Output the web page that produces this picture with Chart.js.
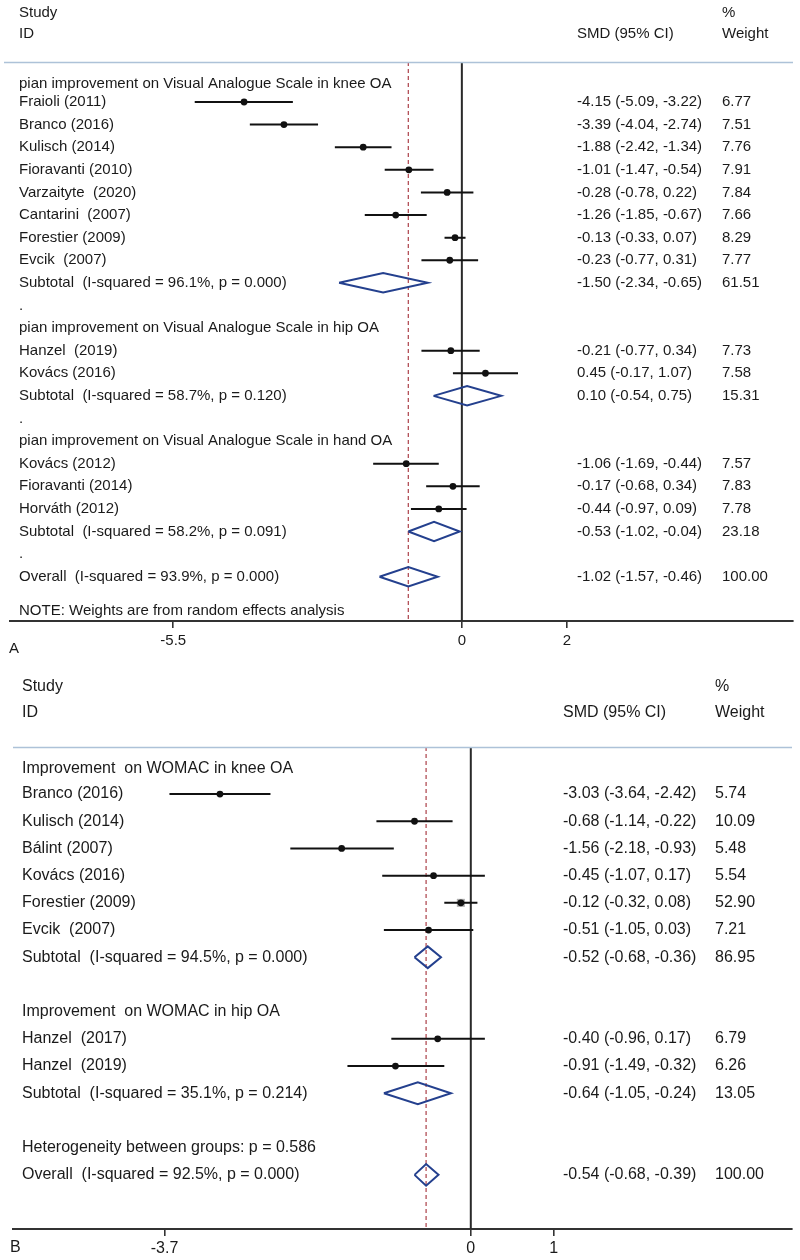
<!DOCTYPE html>
<html><head><meta charset="utf-8">
<script src="https://cdn.jsdelivr.net/npm/chart.js@4.4.0/dist/chart.umd.min.js"></script>
<style>
html,body{margin:0;padding:0;background:#fff;overflow:hidden;width:800px;height:1260px;}
canvas{display:block;position:absolute;left:0;}
</style></head><body>
<canvas id="ca" width="800" height="660" style="top:0px"></canvas>
<canvas id="cb" width="800" height="600" style="top:660px"></canvas>
<script>
// ---------- Panel A data ----------
const studyA = ["Fraioli (2011)", "Branco (2016)", "Kulisch (2014)", "Fioravanti (2010)", "Varzaityte  (2020)", "Cantarini  (2007)", "Forestier (2009)", "Evcik  (2007)", "Hanzel  (2019)", "Kovács (2016)", "Kovács (2012)", "Fioravanti (2014)", "Horváth (2012)"];
const smdA = [-4.15, -3.39, -1.88, -1.01, -0.28, -1.26, -0.13, -0.23, -0.21, 0.45, -1.06, -0.17, -0.44];
const loA  = [-5.09, -4.04, -2.42, -1.47, -0.78, -1.85, -0.33, -0.77, -0.77, -0.17, -1.69, -0.68, -0.97];
const hiA  = [-3.22, -2.74, -1.34, -0.54, 0.22, -0.67, 0.07, 0.31, 0.34, 1.07, -0.44, 0.34, 0.09];
const wA   = [6.77, 7.51, 7.76, 7.91, 7.84, 7.66, 8.29, 7.77, 7.73, 7.58, 7.57, 7.83, 7.78];
const rowA = [1, 2, 3, 4, 5, 6, 7, 8, 12, 13, 17, 18, 19];
const poolLabelA = ["Subtotal  (I-squared = 96.1%, p = 0.000)", "Subtotal  (I-squared = 58.7%, p = 0.120)", "Subtotal  (I-squared = 58.2%, p = 0.091)", "Overall  (I-squared = 93.9%, p = 0.000)"];
const poolSmdA = [-1.50, 0.10, -0.53, -1.02];
const poolLoA  = [-2.34, -0.54, -1.02, -1.57];
const poolHiA  = [-0.65, 0.75, -0.04, -0.46];
const poolWA   = [61.51, 15.31, 23.18, 100.00];
const poolRowA = [9, 14, 20, 22];
const groupA = ["pian improvement on Visual Analogue Scale in knee OA", "pian improvement on Visual Analogue Scale in hip OA", "pian improvement on Visual Analogue Scale in hand OA"];
const groupRowA = [0.2, 11, 16];
const dotRowA = [10, 15, 21];
const noteA = "NOTE: Weights are from random effects analysis";
const ticksA = [-5.5, 0, 2];

// ---------- Panel B data ----------
const studyB = ["Branco (2016)", "Kulisch (2014)", "Bálint (2007)", "Kovács (2016)", "Forestier (2009)", "Evcik  (2007)", "Hanzel  (2017)", "Hanzel  (2019)"];
const smdB = [-3.03, -0.68, -1.56, -0.45, -0.12, -0.51, -0.40, -0.91];
const loB  = [-3.64, -1.14, -2.18, -1.07, -0.32, -1.05, -0.96, -1.49];
const hiB  = [-2.42, -0.22, -0.93, 0.17, 0.08, 0.03, 0.17, -0.32];
const wB   = [5.74, 10.09, 5.48, 5.54, 52.90, 7.21, 6.79, 6.26];
const rowB = [1, 2, 3, 4, 5, 6, 10, 11];
const poolLabelB = ["Subtotal  (I-squared = 94.5%, p = 0.000)", "Subtotal  (I-squared = 35.1%, p = 0.214)", "Overall  (I-squared = 92.5%, p = 0.000)"];
const poolSmdB = [-0.52, -0.64, -0.54];
const poolLoB  = [-0.68, -1.05, -0.68];
const poolHiB  = [-0.36, -0.24, -0.39];
const poolWB   = [86.95, 13.05, 100.00];
const poolRowB = [7, 12, 15];
const groupB = ["Improvement  on WOMAC in knee OA", "Improvement  on WOMAC in hip OA", "Heterogeneity between groups: p = 0.586"];
const groupRowB = [0.05, 9, 14];
const ticksB = [-3.7, 0, 1];

const FONT = '"Liberation Sans", Arial, Helvetica, sans-serif';
const TXT = '#1a1a1a';

function fmtCI(e, l, h) { return e.toFixed(2) + ' (' + l.toFixed(2) + ', ' + h.toFixed(2) + ')'; }

function ciSegments(lo, hi, rows) {
  const out = [];
  for (let i = 0; i < lo.length; i++) {
    out.push({x: lo[i], y: rows[i]}, {x: hi[i], y: rows[i]}, {x: null, y: null});
  }
  return out;
}
function diamondPts(lo, est, hi, rows, h) {
  const out = [];
  for (let i = 0; i < lo.length; i++) {
    const r = rows[i];
    out.push({x: lo[i], y: r}, {x: est[i], y: r - h}, {x: hi[i], y: r}, {x: est[i], y: r + h}, {x: lo[i], y: r}, {x: null, y: null});
  }
  return out;
}

function makePanel(id, P) {
  const texts = [];
  texts.push({t: 'Study', r: -2.95, c: 'L'}, {t: 'ID', r: -2, c: 'L'});
  texts.push({t: 'SMD (95% CI)', r: -2, c: 'S'}, {t: '%', r: -2.95, c: 'W'}, {t: 'Weight', r: -2, c: 'W'});
  P.groups.forEach((g, i) => texts.push({t: g, r: P.groupRows[i], c: 'L'}));
  (P.dotRows || []).forEach(r => texts.push({t: '.', r: r, c: 'L'}));
  P.study.forEach((s, i) => {
    texts.push({t: s, r: P.rows[i], c: 'L'});
    texts.push({t: fmtCI(P.smd[i], P.lo[i], P.hi[i]), r: P.rows[i], c: 'S'});
    texts.push({t: P.w[i].toFixed(2), r: P.rows[i], c: 'W'});
  });
  P.poolLabel.forEach((s, i) => {
    texts.push({t: s, r: P.poolRows[i], c: 'L'});
    texts.push({t: fmtCI(P.poolSmd[i], P.poolLo[i], P.poolHi[i]), r: P.poolRows[i], c: 'S'});
    texts.push({t: P.poolW[i].toFixed(2), r: P.poolRows[i], c: 'W'});
  });
  if (P.note) texts.push({t: P.note, r: P.noteRow, c: 'L'});

  const overall = P.poolSmd[P.poolSmd.length - 1];

  const textPlugin = {
    id: 'forestText',
    afterDraw(chart) {
      const ctx = chart.ctx, ys = chart.scales.y, ca = chart.chartArea;
      ctx.save();
      ctx.strokeStyle = '#adc2d8';
      ctx.lineWidth = 1.3;
      ctx.beginPath();
      ctx.moveTo(P.sepX0, ca.top + 0.5);
      ctx.lineTo(ca.right, ca.top + 0.5);
      ctx.stroke();
      ctx.fillStyle = TXT;
      ctx.font = P.fs + 'px ' + FONT;
      ctx.textBaseline = 'middle';
      ctx.textAlign = 'left';
      texts.forEach(o => {
        const x = o.c === 'L' ? P.xL : (o.c === 'S' ? P.xS : P.xW);
        ctx.fillText(o.t, x, ys.getPixelForValue(o.r));
      });
      ctx.fillText(P.panel, P.panelX, ca.bottom + P.panelDy);
      ctx.restore();
    }
  };

  return new Chart(document.getElementById(id), {
    type: 'scatter',
    data: {
      datasets: [
        {
          data: [{x: 0, y: P.yMin}, {x: 0, y: P.yMax}], showLine: true, borderColor: '#2a2a2a',
          borderWidth: 2, pointRadius: 0, order: 6
        },
        {
          data: [{x: overall, y: P.yMin}, {x: overall, y: P.yMax}], showLine: true, borderColor: '#b24f57',
          borderWidth: 1.3, borderDash: [4, 3], pointRadius: 0, order: 5
        },
        {
          data: P.smd.map((v, i) => ({x: v, y: P.rows[i]})), showLine: false, pointStyle: 'rect',
          pointRadius: P.w.map(w => 0.78 * Math.sqrt(w)), backgroundColor: 'rgba(160,160,160,0.85)',
          borderWidth: 0, order: 4
        },
        {
          data: ciSegments(P.lo, P.hi, P.rows), showLine: true, spanGaps: false, borderColor: '#111',
          borderWidth: 2, pointRadius: 0, order: 3
        },
        {
          data: P.smd.map((v, i) => ({x: v, y: P.rows[i]})), showLine: false, pointStyle: 'circle',
          pointRadius: 3.4, backgroundColor: '#111', borderWidth: 0, order: 2
        },
        {
          data: diamondPts(P.poolLo, P.poolSmd, P.poolHi, P.poolRows, P.dh), showLine: true, spanGaps: false,
          borderColor: '#24408e', borderWidth: 2, borderJoinStyle: 'miter', pointRadius: 0, order: 1
        }
      ]
    },
    options: {
      responsive: false, animation: false, events: [],
      layout: {padding: {top: P.padTop, left: P.padLeft, right: P.padRight, bottom: 0}},
      plugins: {legend: {display: false}, tooltip: {enabled: false}},
      scales: {
        x: {
          type: 'linear', min: P.xMin, max: P.xMax, position: 'bottom',
          afterBuildTicks: s => { s.ticks = P.ticks.map(v => ({value: v})); },
          afterFit: s => { s.height = P.axisH; },
          grid: {drawOnChartArea: false, drawTicks: true, tickLength: 7, color: '#333', lineWidth: 1.6},
          border: {display: true, color: '#333', width: 2},
          ticks: {color: TXT, font: {family: FONT, size: P.fs, lineHeight: 1}, padding: 5, maxRotation: 0, autoSkip: false,
                  callback: v => String(v)}
        },
        y: {type: 'linear', min: P.yMin, max: P.yMax, reverse: true, display: false}
      }
    },
    plugins: [textPlugin]
  });
}

makePanel('ca', {
  study: studyA, smd: smdA, lo: loA, hi: hiA, w: wA, rows: rowA,
  poolLabel: poolLabelA, poolSmd: poolSmdA, poolLo: poolLoA, poolHi: poolHiA, poolW: poolWA, poolRows: poolRowA,
  groups: groupA, groupRows: groupRowA, dotRows: dotRowA, note: noteA, noteRow: 23.5, ticks: ticksA,
  xMin: -8.61, xMax: 6.31, yMin: -0.77, yMax: 23.96,
  padTop: 62, padLeft: 10, padRight: 7, axisH: 39, dh: 0.43,
  fs: 15, xL: 19, xS: 577, xW: 722, sepX0: 4, panel: 'A', panelX: 9, panelDy: 28
});
makePanel('cb', {
  study: studyB, smd: smdB, lo: loB, hi: hiB, w: wB, rows: rowB,
  poolLabel: poolLabelB, poolSmd: poolSmdB, poolLo: poolLoB, poolHi: poolHiB, poolW: poolWB, poolRows: poolRowB,
  groups: groupB, groupRows: groupRowB, dotRows: [], note: null, ticks: ticksB,
  xMin: -5.53, xMax: 3.88, yMin: -0.73, yMax: 16.99,
  padTop: 87, padLeft: 13, padRight: 8, axisH: 31, dh: 0.4,
  fs: 16, xL: 22, xS: 563, xW: 715, sepX0: 13, panel: 'B', panelX: 10, panelDy: 19
});
</script>
</body></html>
